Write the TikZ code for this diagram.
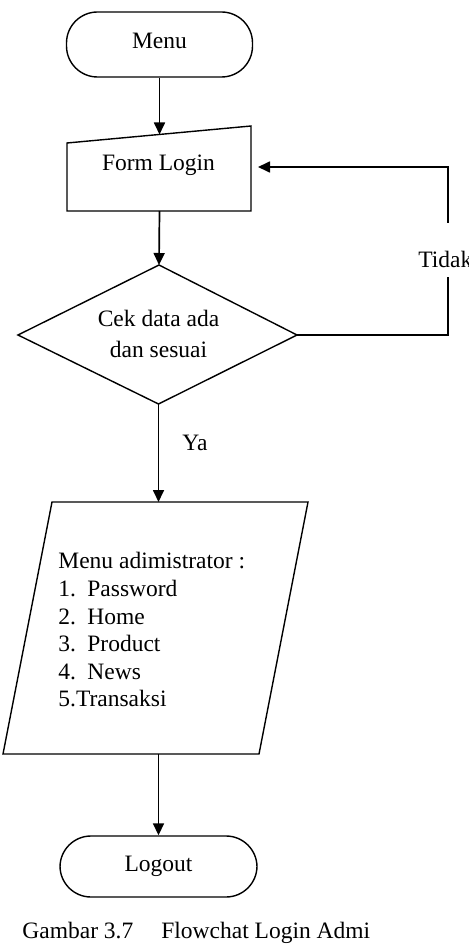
\documentclass[tikz,border=0pt]{standalone}
\usepackage{fontspec}
\setmainfont{Liberation Serif}
\usetikzlibrary{arrows.meta}
\begin{document}
\begin{tikzpicture}[x=0.5pt,y=-0.5pt,
  shapeline/.style={draw, line width=0.7pt},
  term/.style={draw, line width=0.7pt, rounded corners=15.5pt, inner sep=0,
    font=\fontsize{11.75}{13.8}\selectfont, text height=8pt, text depth=3.5pt},
  flow/.style={line width=0.85pt, -{Triangle[length=6pt,width=5.5pt]}},
  plain/.style={line width=0.85pt},
  lbl/.style={font=\fontsize{11.75}{13.8}\selectfont, inner sep=0}]
\useasboundingbox (0,0) rectangle (469,952);

% Terminator: Menu
\node[term, minimum width=93pt, minimum height=32.5pt] (menu) at (159.5,44.5) {Menu};

% Manual input: Form Login
\draw[shapeline] (67,143) -- (251,126) -- (251,211) -- (67,211) -- cycle;
\node[lbl, anchor=base] (formtext) at (158.5,171) {Form Login};
\coordinate (formtop) at (159.5,134.5);
\coordinate (formbot) at (159.5,211);
\coordinate (formin) at (258,167);

% Decision
\coordinate (dtop) at (159,265);
\coordinate (dright) at (297,335);
\coordinate (dbot) at (158.5,404);
\coordinate (dleft) at (18,335);
\draw[shapeline] (dtop) -- (dright) -- (dbot) -- (dleft) -- cycle;
\node[lbl, anchor=base] (cek1) at (158.5,326) {Cek data ada};
\node[lbl, anchor=base] (cek2) at (158.5,357) {dan sesuai};

% Parallelogram
\draw[shapeline] (52,502) -- (308,502) -- (259,754) -- (3,754) -- cycle;
\coordinate (ptop) at (158.5,502);
\coordinate (pbot) at (158.5,754);
\node[lbl, anchor=west, align=left] (menuadmin) at (58,630)
  {Menu adimistrator :\\
   \makebox[14.5pt][l]{1.}Password\\
   \makebox[14.5pt][l]{2.}Home\\
   \makebox[14.5pt][l]{3.}Product\\
   \makebox[14.5pt][l]{4.}News\\
   5.Transaksi};

% Terminator: Logout
\node[term, minimum width=98.5pt, minimum height=30.5pt] (logout) at (158.5,866.5) {Logout};

% Connectors
\draw[flow] (menu.south) -- (formtop);
\draw[flow] (formbot) -- (dtop);
\draw[flow] (dbot) -- (ptop);
\draw[flow] (pbot) -- (logout.north);

% Loop back (Tidak)
\coordinate (tidakbot) at (448,277);
\coordinate (tidaktop) at (448,223);
\draw[plain] (dright) -| (tidakbot);
\draw[flow] (tidaktop) |- (formin);
\node[lbl, anchor=base west] (tidak) at (418,267) {Tidak};

% Ya label
\node[lbl, anchor=base west] (ya) at (182,450) {Ya};

% Caption
\node[lbl, anchor=base west] (caption) at (22,938) {Gambar 3.7\hspace{14pt}Flowchat Login Admi};
\end{tikzpicture}
\end{document}
